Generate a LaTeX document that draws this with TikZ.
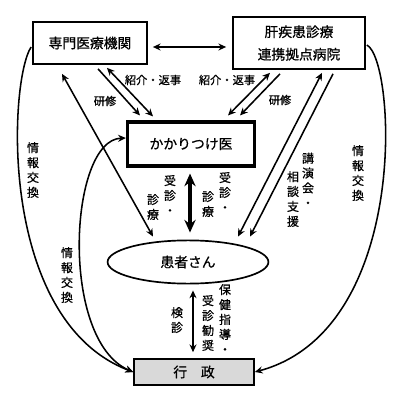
\documentclass[tikz,border=0pt]{standalone}
\usepackage{fontspec}
\setmainfont{Noto Sans CJK JP}[FakeBold=0.7]
\usepackage{tikz}
\usetikzlibrary{arrows.meta, shapes.geometric}

\begin{document}
\begin{tikzpicture}[x=0.025cm,y=-0.025cm,
          >={Stealth[length=5.5pt,width=5pt]},
          box/.style={draw,line width=1.2pt,align=center,inner sep=0pt,
                      font=\fontsize{9.8}{16}\selectfont},
          lab/.style={inner sep=1pt,font=\fontsize{8}{10}\selectfont},
          vlab/.style={inner sep=1pt,align=center,font=\fontsize{8.5}{10.6}\selectfont},
          line/.style={line width=1.1pt}]
        \useasboundingbox (0,0) rectangle (400,400);
        % boxes
        \node[box,minimum width=2.85cm,minimum height=1.05cm](senmon) at (90,43)
          {専門医療機関};
        \node[box,minimum width=3.3cm,minimum height=1.3cm](kyoten) at (299,43)
          {肝疾患診療\\連携拠点病院};
        \node[box,line width=2.2pt,minimum width=3.18cm,minimum height=1.1cm](kakari) at (191,144)
          {かかりつけ医};
        \node[box,ellipse,minimum width=4.02cm,minimum height=1.08cm](kanja) at (188,262)
          {患者さん};
        \node[box,fill=gray!30,minimum width=3cm,minimum height=0.65cm](gyosei) at (194,372)
          {行　政};
        % straight arrows
        \draw[line,<->]([shift={(5,4)}]senmon.east)--([shift={(-6,4)}]kyoten.west);
        \draw[line,->]([shift={(8,4)}]senmon.south)--([shift={(-51,-5)}]kakari.north);
        \draw[line,<->]([shift={(17,3)}]senmon.south)--([shift={(-38,-4)}]kakari.north);
        \draw[line,<->]([shift={(-29,3)}]kyoten.south)--([shift={(37,-5)}]kakari.north);
        \draw[line,->]([shift={(-19,4)}]kyoten.south)--([shift={(49,-5)}]kakari.north);
        \draw[line,<->]([shift={(23,3)}]kyoten.south)--([shift={(50,-3)}]kanja.north);
        \draw[line,->]([shift={(34,4)}]kyoten.south)--([shift={(62,-3)}]kanja.north);
        \draw[line,<->]([shift={(-28,9)}]senmon.south)--([shift={(-35,-3)}]kanja.north);
        \draw[line width=2.6pt,{Stealth[length=9pt,width=8pt]}-{Stealth[length=9pt,width=8pt]}]
          ([shift={(-1,6)}]kakari.south)--([shift={(2,-7)}]kanja.north);
        \draw[line,<->]([shift={(5,6)}]kanja.south)--([shift={(-1,-6)}]gyosei.north);
        % curves
        \draw[line,->]([shift={(-1,4)}]senmon.west)
          .. controls +(-22,33) and +(-136,-52) .. (gyosei.west);
        \draw[line,<->](gyosei.west)
          .. controls +(-74,-32) and +(-57,2) .. ([shift={(0,-6)}]kakari.west);
        \draw[line,->]([shift={(1,2)}]kyoten.east)
          .. controls +(29,15) and +(156,-42) .. (gyosei.east);
        % labels
        \node[lab](shokai1) at (153,80) {紹介・返事};
        \node[lab](kenshu1) at (105,101) {研修};
        \node[lab](shokai2) at (227,80) {紹介・返事};
        \node[lab](kenshu2) at (280,100) {研修};
        \node[vlab](joho1) at (33,170) {情\\報\\交\\換};
        \node[vlab](joho2) at (67,275) {情\\報\\交\\換};
        \node[vlab](joho3) at (358,173) {情\\報\\交\\換};
        \node[vlab](koen) at (308,180) {講\\演\\会\\・};
        \node[vlab](sodan) at (293,199) {相\\談\\支\\援};
        \node[vlab](jushinA) at (170,195) {受\\診\\・};
        \node[vlab](shinryoA) at (153,207) {診\\療};
        \node[vlab](jushinB) at (225,192) {受\\診\\・};
        \node[vlab](shinryoB) at (208,204) {診\\療};
        \node[vlab](kenshin) at (177,320) {検\\診};
        \node[vlab](hoken) at (225,319) {保\\健\\指\\導\\・};
        \node[vlab](kansho) at (208,323) {受\\診\\勧\\奨};
      \end{tikzpicture}
\end{document}
